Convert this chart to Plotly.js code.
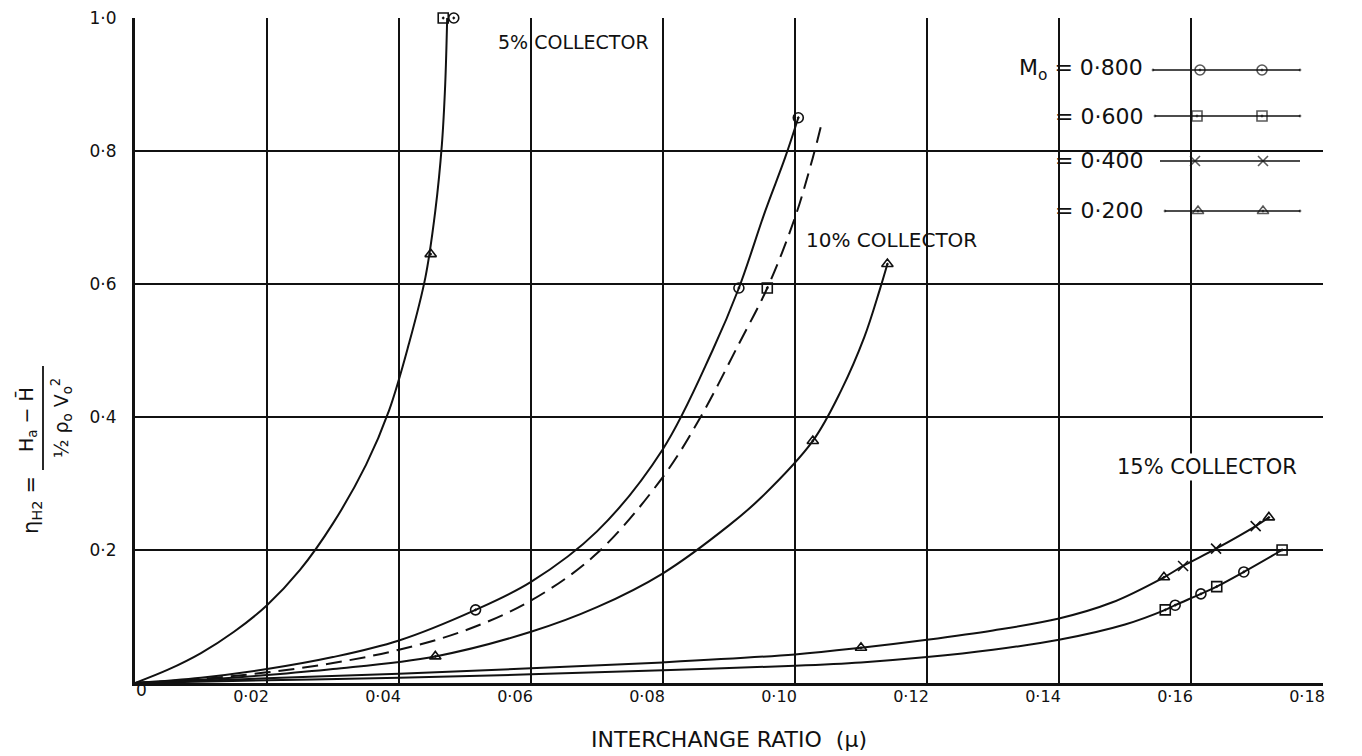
<!DOCTYPE html>
<html>
<head>
<meta charset="utf-8">
<script src="https://cdn.plot.ly/plotly-3.0.1.min.js"></script>
<style>html,body{margin:0;padding:0;background:#fff;}#chart{width:1362px;height:756px;}</style>
</head>
<body>
<div id="chart"></div>
<script>
// ---------------- DATA ----------------
// 5% collector curve (all Mach numbers coincide)
const c5X = [0, 0.005, 0.01, 0.015, 0.02, 0.025, 0.03, 0.035, 0.0385, 0.0415, 0.044, 0.0455, 0.0465, 0.047, 0.0473];
const c5Y = [0, 0.02, 0.045, 0.077, 0.117, 0.17, 0.24, 0.328, 0.41, 0.51, 0.61, 0.71, 0.81, 0.9, 1.0];

// 10% collector, M0 = 0.800 (solid)
const c10M08X = [0, 0.01, 0.02, 0.03, 0.04, 0.0516, 0.06, 0.07, 0.08, 0.0875, 0.0915, 0.0955, 0.0985, 0.1005];
const c10M08Y = [0, 0.008, 0.021, 0.039, 0.064, 0.11, 0.152, 0.228, 0.352, 0.5, 0.594, 0.71, 0.79, 0.85];

// 10% collector, M0 = 0.600 (dashed)
const c10M06X = [0, 0.01, 0.02, 0.03, 0.04, 0.05, 0.06, 0.07, 0.08, 0.0857, 0.0915, 0.0958, 0.1, 0.1027, 0.104];
const c10M06Y = [0, 0.006, 0.016, 0.03, 0.05, 0.079, 0.124, 0.195, 0.31, 0.4, 0.51, 0.594, 0.7, 0.79, 0.84];

// 10% collector, M0 = 0.200
const c10M02X = [0, 0.01, 0.02, 0.03, 0.0455, 0.06, 0.07, 0.08, 0.09, 0.095, 0.1027, 0.107, 0.1105, 0.1128, 0.114];
const c10M02Y = [0, 0.005, 0.012, 0.021, 0.04, 0.077, 0.114, 0.165, 0.237, 0.28, 0.364, 0.44, 0.52, 0.59, 0.63];

// 15% collector, upper curve (M0 = 0.400 and 0.200)
const c15UpX = [0, 0.02, 0.04, 0.06, 0.08, 0.10, 0.110, 0.12, 0.13, 0.14, 0.148, 0.1559, 0.1588, 0.1638, 0.1698, 0.1718];
const c15UpY = [0, 0.007, 0.014, 0.022, 0.031, 0.043, 0.053, 0.065, 0.079, 0.097, 0.121, 0.159, 0.176, 0.202, 0.236, 0.249];

// 15% collector, lower curve (M0 = 0.800 and 0.600)
const c15LoX = [0, 0.02, 0.04, 0.06, 0.08, 0.10, 0.11, 0.12, 0.13, 0.14, 0.15, 0.1561, 0.1576, 0.1615, 0.1639, 0.168, 0.1738];
const c15LoY = [0, 0.004, 0.008, 0.013, 0.019, 0.026, 0.031, 0.039, 0.05, 0.065, 0.088, 0.11, 0.117, 0.134, 0.145, 0.167, 0.2];

// Experimental points by Mach number
const m08X = [0.0483, 0.0516, 0.0915, 0.1005, 0.1576, 0.1615, 0.168];
const m08Y = [1.0, 0.11, 0.594, 0.85, 0.117, 0.134, 0.167];
const m06X = [0.0467, 0.0958, 0.1561, 0.1639, 0.1738];
const m06Y = [1.0, 0.594, 0.11, 0.145, 0.2];
const m04X = [0.1588, 0.1638, 0.1698];
const m04Y = [0.176, 0.202, 0.236];
const m02X = [0.0448, 0.0455, 0.1027, 0.114, 0.110, 0.1559, 0.1718];
const m02Y = [0.645, 0.04, 0.364, 0.63, 0.053, 0.159, 0.249];

const machLabels = ["0·800", "0·600", "0·400", "0·200"];
const collectorLabels = ["5% COLLECTOR", "10% COLLECTOR", "15% COLLECTOR"];
const xTickVals = [0.02, 0.04, 0.06, 0.08, 0.10, 0.12, 0.14, 0.16, 0.18];
const xTickText = ["0·02", "0·04", "0·06", "0·08", "0·10", "0·12", "0·14", "0·16", "0·18"];
const yTickVals = [0.2, 0.4, 0.6, 0.8, 1.0];
const yTickText = ["0·2", "0·4", "0·6", "0·8", "1·0"];

// ---------------- LAYOUT helpers ----------------
const W = 1362, H = 756;
const M = {l: 135, r: 39, t: 18, b: 73};
const PW = W - M.l - M.r, PH = H - M.t - M.b;
const px = v => (v - M.l) / PW;      // pixel x -> paper x
const py = v => (H - M.b - v) / PH;  // pixel y -> paper y

const FONT = "DejaVu Sans, Liberation Sans, sans-serif";
const INK = "#111";

const symbols = ["circle-open-dot", "square-open-dot", "x-thin-open", "triangle-up-open-dot"];
const markerStyle = (i) => ({symbol: symbols[i], size: 10, color: INK, line: {color: INK, width: 1.6}});

const lineTrace = (x, y, dash) => ({
  x, y, type: "scatter", mode: "lines", hoverinfo: "skip", showlegend: false,
  line: {color: INK, width: 2, shape: "spline", smoothing: 1.0, dash: dash || "solid"}
});
const markTrace = (x, y, i) => ({
  x, y, type: "scatter", mode: "markers", showlegend: false, cliponaxis: false,
  marker: markerStyle(i)
});

const traces = [
  lineTrace(c5X, c5Y),
  lineTrace(c10M08X, c10M08Y),
  lineTrace(c10M06X, c10M06Y, "16px,8px"),
  lineTrace(c10M02X, c10M02Y),
  lineTrace(c15UpX, c15UpY),
  lineTrace(c15LoX, c15LoY),
  markTrace(m08X, m08Y, 0),
  markTrace(m06X, m06Y, 1),
  markTrace(m04X, m04Y, 2),
  markTrace(m02X, m02Y, 3)
];

// legend samples (layout decoration on an overlay axis in paper units)
const legRowsPx = [70, 116, 161, 211];
const legLineStart = [1153, 1155, 1160, 1165];
const legMarkPx = [[1200, 1262], [1197, 1262], [1195, 1263], [1198, 1263]];
const legLineEnd = 1300;
legRowsPx.forEach((ry, i) => {
  traces.push({
    x: [px(legLineStart[i]), px(legMarkPx[i][0]), px(legMarkPx[i][1]), px(legLineEnd)],
    y: [py(ry), py(ry), py(ry), py(ry)],
    xaxis: "x2", yaxis: "y2", type: "scatter", mode: "lines+markers",
    showlegend: false, hoverinfo: "skip", cliponaxis: false,
    line: {color: INK, width: 1.6},
    marker: Object.assign(markerStyle(i), {size: [0, 10, 10, 0]})
  });
});

const annotations = [];
// legend text
legRowsPx.forEach((ry, i) => {
  annotations.push({
    xref: "paper", yref: "paper", x: px(1145), y: py(ry), xanchor: "right", yanchor: "middle",
    text: (i === 0 ? "M<sub>o</sub> " : "") + "= " + machLabels[i], showarrow: false,
    font: {family: FONT, size: 22, color: INK}
  });
});
// collector labels
const collPos = [[573, 42, false, 19], [891, 240, false, 20], [1207, 467, true, 21]];
collectorLabels.forEach((t, i) => {
  annotations.push({
    xref: "paper", yref: "paper", x: px(collPos[i][0]), y: py(collPos[i][1]),
    xanchor: "center", yanchor: "middle", text: t, showarrow: false,
    bgcolor: collPos[i][2] ? "#fff" : "rgba(0,0,0,0)",
    font: {family: FONT, size: collPos[i][3], color: INK}
  });
});
// x origin label
annotations.push({xref: "paper", yref: "paper", x: px(141), y: py(690), text: "0", showarrow: false,
  xanchor: "center", yanchor: "middle", font: {family: FONT, size: 17, color: INK}});
// y-axis title as a drafted fraction
annotations.push({xref: "paper", yref: "paper", x: px(32), y: py(505), text: "η<sub>H2</sub> =", textangle: -90,
  showarrow: false, xanchor: "center", yanchor: "middle", font: {family: FONT, size: 21, color: INK}});
annotations.push({xref: "paper", yref: "paper", x: px(27), y: py(420), text: "H<sub>a</sub> − H\u0304", textangle: -90,
  showarrow: false, xanchor: "center", yanchor: "middle", font: {family: FONT, size: 19, color: INK}});
annotations.push({xref: "paper", yref: "paper", x: px(61), y: py(418), text: "½ ρ<sub>o</sub> V<sub>o</sub><sup>2</sup>", textangle: -90,
  showarrow: false, xanchor: "center", yanchor: "middle", font: {family: FONT, size: 19, color: INK}});

const shapes = [
  // fraction bar of the y-axis title
  {type: "line", xref: "paper", yref: "paper", x0: px(43), x1: px(43), y0: py(366), y1: py(470), line: {color: INK, width: 1.8}},
  // blank area around the key (grid interrupted)
  {type: "rect", xref: "paper", yref: "paper", x0: px(966), x1: px(1330), y0: py(228), y1: py(46), layer: "between", fillcolor: "#fff", line: {width: 0}},
  // top frame only drawn near the left
  {type: "rect", xref: "paper", yref: "paper", x0: px(472), x1: px(1330), y0: py(21), y1: py(14), layer: "between", fillcolor: "#fff", line: {width: 0}}
];

const layout = {
  width: W, height: H, margin: M,
  paper_bgcolor: "#fff", plot_bgcolor: "#fff",
  showlegend: false,
  font: {family: FONT, color: INK},
  xaxis: {
    range: [0, 0.18], tickvals: xTickVals, ticktext: xTickText, ticks: "",
    showgrid: true, gridcolor: INK, gridwidth: 2, zeroline: false,
    showline: true, linecolor: INK, linewidth: 3,
    tickfont: {family: FONT, size: 16, color: INK}, ticklabelshift: -16, ticklabelstandoff: -3,
    title: {text: "INTERCHANGE RATIO  (μ)", font: {family: FONT, size: 22, color: INK}, standoff: 27},
    automargin: false, fixedrange: true
  },
  yaxis: {
    range: [0, 1.0], tickvals: yTickVals, ticktext: yTickText, ticks: "",
    showgrid: true, gridcolor: INK, gridwidth: 2, zeroline: false,
    showline: true, linecolor: INK, linewidth: 3,
    tickfont: {family: FONT, size: 17, color: INK}, ticklabelstandoff: 12,
    automargin: false, fixedrange: true
  },
  xaxis2: {overlaying: "x", range: [0, 1], visible: false, fixedrange: true},
  yaxis2: {overlaying: "y", range: [0, 1], visible: false, fixedrange: true},
  annotations, shapes
};

Plotly.newPlot("chart", traces, layout, {displayModeBar: false, staticPlot: true});
</script>
</body>
</html>
